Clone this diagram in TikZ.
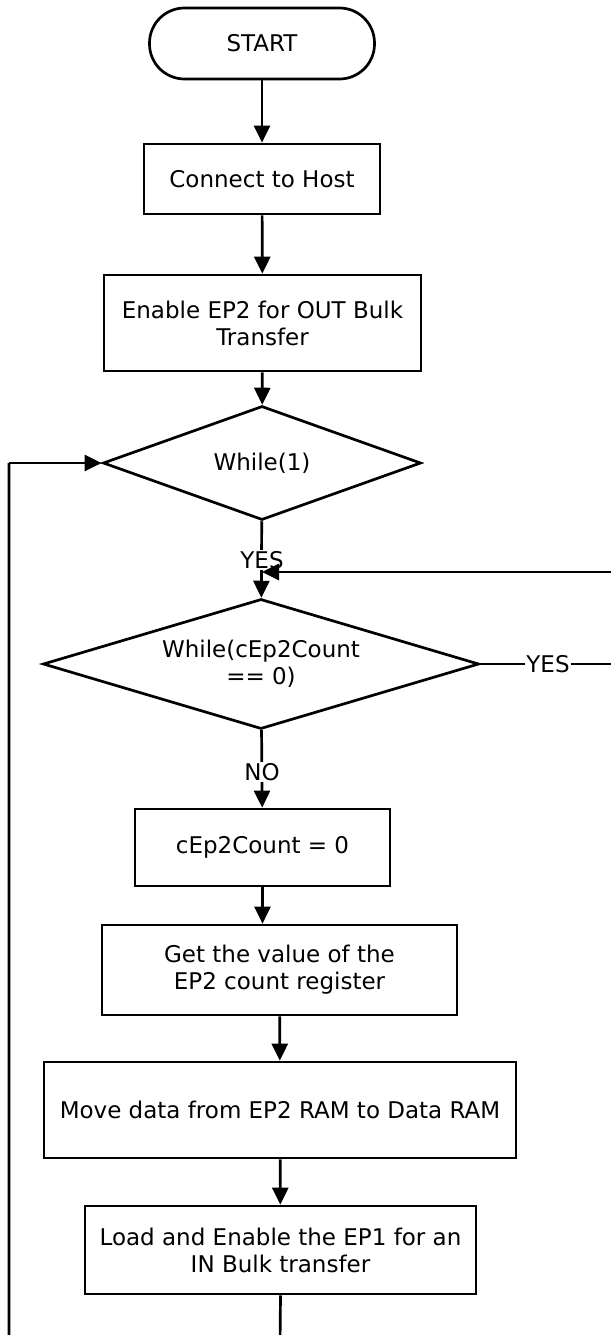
\documentclass[tikz,border=0pt]{standalone}
\usepackage{fontspec}
\setmainfont{DejaVu Sans}
\usetikzlibrary{shapes.geometric,arrows.meta}
\tikzset{
  base/.style={draw=black, line width=2.7pt, fill=white, align=center, inner sep=0pt,
    font=\fontsize{23}{27}\selectfont},
  terminal/.style={base, rectangle, rounded corners=35pt},
  procbox/.style={base, rectangle},
  decision/.style={base, diamond},
  flow/.style={line width=2.7pt, -{Triangle[length=17pt,width=16pt]}},
  plain/.style={line width=2.7pt},
  lbl/.style={fill=white, inner sep=1pt, font=\fontsize{23}{27}\selectfont}
}
\begin{document}
\begin{tikzpicture}[x=1pt,y=-1pt]
\useasboundingbox (0,0) rectangle (610,1335);
\fill[white] (0,0) rectangle (610,1335);

\node[terminal, minimum width=225pt, minimum height=71pt] (start) at (262,43.5) {START};
\node[procbox, minimum width=236pt, minimum height=70pt] (connect) at (262,179) {Connect to Host};
\node[procbox, minimum width=317pt, minimum height=96pt] (enable) at (262.5,323) {Enable EP2 for OUT Bulk\\Transfer};
\node[decision, aspect=2.79, minimum width=318pt, minimum height=114pt] (w1) at (262,463) {While(1)};
\node[decision, aspect=3.35, minimum width=436pt, minimum height=130pt] (w2) at (261,664) {While(cEp2Count\\== 0)};
\node[procbox, minimum width=255pt, minimum height=77pt] (cep) at (262.5,847.5) {cEp2Count = 0};
\node[procbox, minimum width=355pt, minimum height=90pt] (get) at (279.5,970) {Get the value of the\\EP2 count register};
\node[procbox, minimum width=472pt, minimum height=96pt] (move) at (280,1110) {Move data from EP2 RAM to Data RAM};
\node[procbox, minimum width=391pt, minimum height=88pt] (load) at (280.5,1250) {Load and Enable the EP1 for an\\IN Bulk transfer};

\coordinate (fb) at (262,572);
\coordinate (fr1) at (613,664);
\coordinate (fr2) at (613,572);
\coordinate (lb) at (280,1345);
\coordinate (ll) at (9,1345);
\coordinate (lt) at (9,463);

\draw[flow] (start) -- (connect);
\draw[flow] (connect) -- (enable);
\draw[flow] (enable) -- (w1);
\draw[flow] (w1) -- (w2);
\node[lbl] (yes1) at (262,560) {YES};
\draw[flow] (w2.east) -- (fr1) -- (fr2) -- (fb);
\node[lbl] (yes2) at (548,664) {YES};
\draw[flow] (w2) -- (cep);
\node[lbl] (no) at (262,772) {NO};
\draw[flow] (cep.south) -- (cep.south |- get.north);
\draw[flow] (get) -- (move);
\draw[flow] (move) -- (load);
\draw[plain] (load.south) -- (lb) -- (ll) -- (lt);
\draw[flow] (lt) -- (w1.west);
\end{tikzpicture}
\end{document}
